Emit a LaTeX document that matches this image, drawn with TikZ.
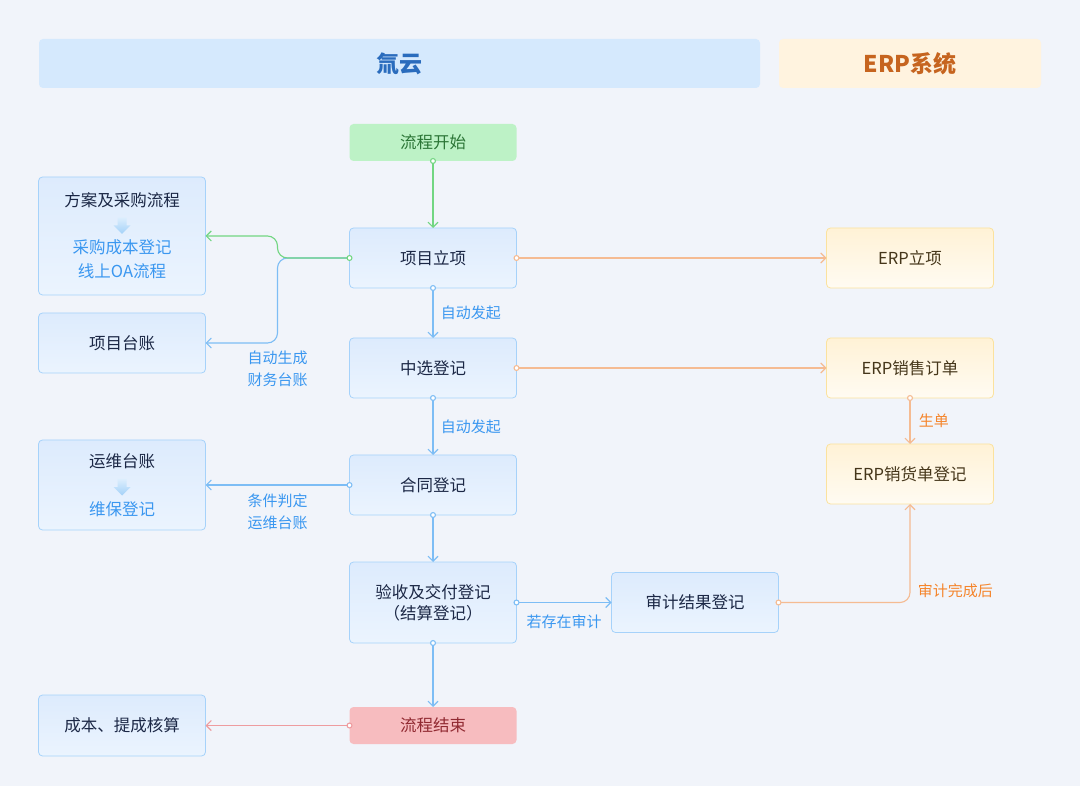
\documentclass[tikz,border=0pt]{standalone}
\usepackage{fontspec}
\setmainfont{Noto Sans CJK SC}
\usetikzlibrary{positioning,arrows.meta}
\definecolor{bgc}{HTML}{F1F4FA}
\definecolor{hdrblue}{HTML}{D5E9FD}
\definecolor{hdrbluetext}{HTML}{2A6CBD}
\definecolor{hdrorange}{HTML}{FFF3DF}
\definecolor{hdrorangetext}{HTML}{C6641F}
\definecolor{txtdark}{HTML}{1B2745}
\definecolor{qborder}{HTML}{A6D2FA}
\definecolor{qtop}{HTML}{DDEBFD}
\definecolor{qbot}{HTML}{EBF4FE}
\definecolor{eborder}{HTML}{FBE29E}
\definecolor{etop}{HTML}{FFF2D6}
\definecolor{ebot}{HTML}{FFFBF2}
\definecolor{etext}{HTML}{45361A}
\definecolor{startfill}{HTML}{BDF2C6}
\definecolor{starttext}{HTML}{2B7536}
\definecolor{endfill}{HTML}{F7BCBF}
\definecolor{endtext}{HTML}{912A32}
\definecolor{bluel}{HTML}{7DBDF5}
\definecolor{greenl}{HTML}{72D682}
\definecolor{orangel}{HTML}{F5BB92}
\definecolor{redl}{HTML}{EE9C9F}
\definecolor{lblblue}{HTML}{3A97F0}
\definecolor{lblorange}{HTML}{F5852C}
\definecolor{arrtop}{HTML}{DCEEFD}
\definecolor{arrbot}{HTML}{A3D1F8}
\newcommand{\fatarrow}[1]{\shade[top color=arrtop, bottom color=arrbot]
  (#1) ++(-4.5,-8) -- ++(9,0) -- ++(0,8) -- ++(4,0) -- ++(-8.5,8.5) -- ++(-8.5,-8.5) -- ++(4,0) -- cycle;}

\begin{document}
\begin{tikzpicture}[
  x=1pt, y=-1pt,
  font=\fontsize{16.5}{21}\selectfont,
  box/.style={draw, rounded corners=4pt, align=center,
              minimum width=167pt, minimum height=60pt,
              inner sep=2pt, outer sep=0pt, line width=0.8pt, text=txtdark},
  qbox/.style={box, draw=qborder, top color=qtop, bottom color=qbot},
  ebox/.style={box, draw=eborder, top color=etop, bottom color=ebot, text=etext},
  sbox/.style={box, draw=none, fill=startfill, text=starttext, minimum height=37pt},
  fbox/.style={box, draw=none, fill=endfill, text=endtext, minimum height=37pt},
  hdr/.style={rounded corners=4pt, minimum height=49pt,
              font=\fontsize{23}{28}\selectfont\bfseries},
  arr/.style={{Circle[length=6pt, fill=white]}-{Straight Barb[length=5pt, width=10pt]},
              line width=1.1pt, shorten <=-3pt},
  tip/.style={-{Straight Barb[length=5pt, width=10pt]}, line width=1.1pt},
  lbl/.style={font=\fontsize{15}{22}\selectfont, align=center, text=lblblue},
  olbl/.style={lbl, text=lblorange}
]
\fill[bgc] (0,0) rectangle (1080,786);

% column headers
\node[hdr, fill=hdrblue, text=hdrbluetext, minimum width=721pt] (hcy) at (399.5,63.5) {氚云};
\node[hdr, fill=hdrorange, text=hdrorangetext, minimum width=262pt] (herp) at (910,63.5) {ERP系统};

% main flow
\node[sbox] (start) at (433,142.5) {流程开始};
\node[qbox, below=67pt of start]  (xiang)   {项目立项};
\node[qbox, below=50pt of xiang]  (zhong)   {中选登记};
\node[qbox, below=57pt of zhong]  (hetong)  {合同登记};
\node[qbox, below=47pt of hetong, minimum height=81pt] (yanshou) {验收及交付登记\\（结算登记）};
\node[fbox, below=64pt of yanshou] (finish) {流程结束};

% left side
\node[qbox, left=144pt of xiang, yshift=22pt, minimum height=118pt] (fang)
  {方案及采购流程\\[26pt]{\color{lblblue}采购成本登记}\\[3pt]{\color{lblblue}线上OA流程}};
\node[qbox, left=144pt of zhong, yshift=25pt] (zhang) {项目台账};
\node[qbox, left=144pt of hetong, minimum height=90pt] (yw)
  {运维台账\\[27pt]{\color{lblblue}维保登记}};
\node[qbox, left=144pt of finish, minimum height=61pt] (cost) {成本、提成核算};
\fatarrow{[yshift=10.5pt]fang.center}
\fatarrow{[yshift=-2pt]yw.center}

% right side
\node[qbox, right=95pt of yanshou] (audit) {审计结果登记};
\node[ebox, right=310pt of xiang] (erp1) {ERP立项};
\node[ebox, right=310pt of zhong] (erp2) {ERP销售订单};
\node[ebox, below=46pt of erp2]   (xhd)  {ERP销货单登记};

% connectors
\coordinate (split) at ([xshift=-72pt]xiang.west);
\draw[arr, greenl] (start.south) -- (xiang.north);
\draw[tip, bluel, rounded corners=10pt] (xiang.west) -- (split)
  |- node[lbl, pos=0.5, below=4pt] {自动生成\\财务台账} (zhang.east);
\draw[arr, greenl, rounded corners=10pt] (xiang.west) -- (split) |- (fang.east);
\draw[arr, orangel] (xiang.east) -- (erp1.west);
\draw[arr, bluel] (xiang.south) -- node[lbl, right=4pt] {自动发起} (zhong.north);
\draw[arr, orangel] (zhong.east) -- (erp2.west);
\draw[arr, bluel] (zhong.south) -- node[lbl, right=4pt] {自动发起} (hetong.north);
\draw[arr, bluel] (hetong.west) -- node[lbl, below=5pt] {条件判定\\运维台账} (yw.east);
\draw[arr, bluel] (hetong.south) -- (yanshou.north);
\draw[arr, bluel] (yanshou.east) -- node[lbl, below=8pt] {若存在审计} (audit.west);
\draw[arr, orangel, rounded corners=10pt] (audit.east)
  -| node[olbl, pos=0.5, anchor=south west, xshift=4pt, yshift=1pt] {审计完成后} (xhd.south);
\draw[arr, orangel] (erp2.south) -- node[olbl, right=5pt] {生单} (xhd.north);
\draw[arr, bluel] (yanshou.south) -- (finish.north);
\draw[arr, redl] (finish.west) -- (cost.east);
\end{tikzpicture}
\end{document}
